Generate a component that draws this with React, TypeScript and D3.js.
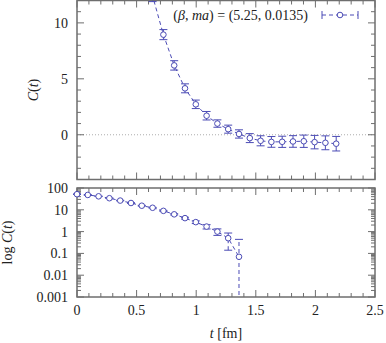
import * as d3 from 'd3';

// lattice times (fm) and correlator values with errors
const tValues = [
  0, 0.0906, 0.1812, 0.2718, 0.3624, 0.453, 0.5436, 0.6342, 0.7248, 0.8154, 0.906, 0.9966, 1.0872,
  1.1778, 1.2684, 1.359, 1.4496, 1.5402, 1.6308, 1.7214, 1.812, 1.9026, 1.9932, 2.0838, 2.1744,
];
const cValues = [
  52, 48, 41.5, 34, 26.5, 20.5, 15.4, 12.4, 8.95, 6.2, 4.15, 2.72, 1.7, 1.0, 0.5, 0.07, -0.3, -0.54,
  -0.64, -0.63, -0.6, -0.58, -0.66, -0.72, -0.8,
];
const cErrors = [
  1.5, 1.2, 1.0, 0.9, 0.8, 0.7, 0.6, 0.5, 0.45, 0.42, 0.4, 0.38, 0.38, 0.33, 0.36, 0.37, 0.4, 0.45,
  0.48, 0.5, 0.52, 0.55, 0.6, 0.62, 0.65,
];
const xTickLabels = ['0', '0.5', '1', '1.5', '2', '2.5'];
const linTickLabels = ['0', '5', '10'];
const logTickLabels = ['0.001', '0.01', '0.1', '1', '10', '100'];

const W = 386;
const H = 343;
const LEFT = 77;
const RIGHT = 375;
const TOP1 = 0.5;
const BOT1 = 179.5;
const TOP2 = 188;
const BOT2 = 297;
const BLUE = '#4b4bb5';
const FRAME = '#6e6e6e';
const FONT = "'Liberation Serif', 'DejaVu Serif', serif";

type Pt = { t: number; c: number; e: number };
const points: Pt[] = tValues.map((t, i) => ({ t, c: cValues[i], e: cErrors[i] }));

export default function App() {
  const x = d3.scaleLinear().domain([0, 2.5]).range([LEFT, RIGHT]);
  const y1 = d3.scaleLinear().domain([-4, 12]).range([BOT1, TOP1]);
  const y2 = d3.scaleLog().domain([0.001, 100]).range([BOT2, TOP2]);

  const xMajor = d3.range(0, 2.501, 0.5);
  const xMinor = d3.range(0, 2.501, 0.1).filter((v) => Math.abs(v / 0.5 - Math.round(v / 0.5)) > 1e-6);
  const y1Major = [0, 5, 10];
  const y1Minor = d3.range(-4, 12.01, 1).filter((v) => v % 5 !== 0);
  const y2Major = [0.001, 0.01, 0.1, 1, 10, 100];
  const y2Minor: number[] = [];
  [0.001, 0.01, 0.1, 1, 10].forEach((d) => {
    for (let k = 2; k <= 9; k++) y2Minor.push(d * k);
  });

  const line1 = d3
    .line<Pt>()
    .x((d) => x(d.t))
    .y((d) => y1(d.c));
  const logPts = points.filter((d) => d.c > 0);
  const line2 = d3
    .line<Pt>()
    .x((d) => x(d.t))
    .y((d) => y2(d.c));

  const MAJ = 7;
  const MIN = 4;

  const frameTicks = (top: number, bot: number, yMaj: number[], yMin: number[], ys: (v: number) => number) => (
    <g stroke={FRAME} strokeWidth={1}>
      {xMajor.map((v) => (
        <g key={'xM' + v}>
          <line x1={x(v)} x2={x(v)} y1={bot} y2={bot - MAJ} />
          <line x1={x(v)} x2={x(v)} y1={top} y2={top + MAJ} />
        </g>
      ))}
      {xMinor.map((v) => (
        <g key={'xm' + v}>
          <line x1={x(v)} x2={x(v)} y1={bot} y2={bot - MIN} />
          <line x1={x(v)} x2={x(v)} y1={top} y2={top + MIN} />
        </g>
      ))}
      {yMaj.map((v) => (
        <g key={'yM' + v}>
          <line x1={LEFT} x2={LEFT + MAJ} y1={ys(v)} y2={ys(v)} />
          <line x1={RIGHT} x2={RIGHT - MAJ} y1={ys(v)} y2={ys(v)} />
        </g>
      ))}
      {yMin.map((v) => (
        <g key={'ym' + v}>
          <line x1={LEFT} x2={LEFT + MIN} y1={ys(v)} y2={ys(v)} />
          <line x1={RIGHT} x2={RIGHT - MIN} y1={ys(v)} y2={ys(v)} />
        </g>
      ))}
      <rect x={LEFT} y={top} width={RIGHT - LEFT} height={bot - top} fill="none" strokeWidth={1.5} />
    </g>
  );

  const cap = 4;

  return (
    <svg
      width={W}
      height={H}
      viewBox={`0 0 ${W} ${H}`}
      style={{ position: 'absolute', left: 0, top: 0, background: '#fff', fontFamily: FONT }}
    >
      <defs>
        <clipPath id="clip1">
          <rect x={LEFT - 6} y={TOP1} width={RIGHT - LEFT + 12} height={BOT1 - TOP1} />
        </clipPath>
        <clipPath id="clip2">
          <rect x={LEFT - 6} y={TOP2} width={RIGHT - LEFT + 12} height={BOT2 - TOP2} />
        </clipPath>
      </defs>

      {/* top panel */}
      <line x1={LEFT} x2={RIGHT} y1={y1(0)} y2={y1(0)} stroke="#999" strokeWidth={0.8} strokeDasharray="1,2" />
      {frameTicks(TOP1, BOT1, y1Major, y1Minor, y1)}
      <g clipPath="url(#clip1)" stroke={BLUE} fill="none" strokeWidth={1}>
        <path d={line1(points) ?? ''} strokeDasharray="4,3" />
        {points.map((d, i) => (
          <g key={i}>
            <line x1={x(d.t)} x2={x(d.t)} y1={y1(d.c - d.e)} y2={y1(d.c + d.e)} />
            <line x1={x(d.t) - cap} x2={x(d.t) + cap} y1={y1(d.c - d.e)} y2={y1(d.c - d.e)} />
            <line x1={x(d.t) - cap} x2={x(d.t) + cap} y1={y1(d.c + d.e)} y2={y1(d.c + d.e)} />
            <circle cx={x(d.t)} cy={y1(d.c)} r={2.8} fill="#fff" />
          </g>
        ))}
      </g>
      <g fontSize={14} textAnchor="end" fill="#222">
        {y1Major.map((v, i) => (
          <text key={v} x={68} y={y1(v)} dy="0.35em">
            {linTickLabels[i]}
          </text>
        ))}
      </g>
      <text
        transform={`translate(38,${(TOP1 + BOT1) / 2}) rotate(-90)`}
        textAnchor="middle"
        fontSize={14}
        fill="#222"
      >
        <tspan fontStyle="italic">C</tspan>(<tspan fontStyle="italic">t</tspan>)
      </text>
      {/* legend */}
      <text x={308} y={20} textAnchor="end" fontSize={14} fill="#222">
        (<tspan fontStyle="italic">β</tspan>, <tspan fontStyle="italic">ma</tspan>) = (5.25, 0.0135)
      </text>
      <g stroke={BLUE} strokeWidth={1} fill="none">
        <line x1={322} x2={358} y1={15} y2={15} strokeDasharray="4,3" />
        <line x1={322} x2={322} y1={11} y2={19} />
        <line x1={358} x2={358} y1={11} y2={19} />
        <circle cx={340} cy={15} r={2.8} fill="#fff" />
      </g>

      {/* bottom panel */}
      {frameTicks(TOP2, BOT2, y2Major, y2Minor, (v) => y2(v))}
      <g clipPath="url(#clip2)" stroke={BLUE} fill="none" strokeWidth={1}>
        <path d={line2(logPts) ?? ''} strokeDasharray="4,3" />
        {logPts.map((d, i) => {
          const lo = d.c - d.e > 0 ? y2(d.c - d.e) : BOT2 + 5;
          const hi = y2(d.c + d.e);
          return (
            <g key={i}>
              <line x1={x(d.t)} x2={x(d.t)} y1={lo} y2={hi} strokeDasharray="4,3" />
              {d.c - d.e > 0 && <line x1={x(d.t) - cap} x2={x(d.t) + cap} y1={lo} y2={lo} />}
              <line x1={x(d.t) - cap} x2={x(d.t) + cap} y1={hi} y2={hi} />
              <circle cx={x(d.t)} cy={y2(d.c)} r={2.8} fill="#fff" />
            </g>
          );
        })}
      </g>
      <g fontSize={14} textAnchor="end" fill="#222">
        {y2Major.map((v, i) => (
          <text key={v} x={68} y={y2(v)} dy="0.35em">
            {logTickLabels[i]}
          </text>
        ))}
      </g>
      <g fontSize={14} textAnchor="middle" fill="#222">
        {xMajor.map((v, i) => (
          <text key={v} x={x(v)} y={315}>
            {xTickLabels[i]}
          </text>
        ))}
      </g>
      <text
        transform={`translate(12,${(TOP2 + BOT2) / 2}) rotate(-90)`}
        textAnchor="middle"
        fontSize={14}
        fill="#222"
      >
        log <tspan fontStyle="italic">C</tspan>(<tspan fontStyle="italic">t</tspan>)
      </text>
      <text x={226} y={338} textAnchor="middle" fontSize={14} fill="#222">
        <tspan fontStyle="italic">t</tspan> [fm]
      </text>
    </svg>
  );
}
